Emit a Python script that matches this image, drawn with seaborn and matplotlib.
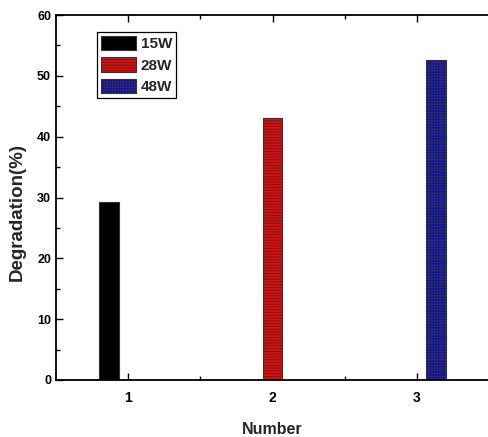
import matplotlib
matplotlib.use("Agg")
import matplotlib.pyplot as plt
import seaborn as sns
import pandas as pd
from matplotlib.ticker import MultipleLocator, FixedLocator
from matplotlib.patches import Patch

numbers = ["1", "2", "3"]
powers = ["15W", "28W", "48W"]
values_15w = [29.3, 0, 0]
values_28w = [0, 43.0, 0]
values_48w = [0, 0, 52.6]

rows = []
for p, vals in zip(powers, [values_15w, values_28w, values_48w]):
    for n, v in zip(numbers, vals):
        rows.append({"Number": n, "Power": p, "Degradation": v})
df = pd.DataFrame(rows)

sns.set_theme(style="white")
plt.rcParams['font.family'] = ['Liberation Sans', 'DejaVu Sans']
plt.rcParams['hatch.linewidth'] = 0.7

fig = plt.figure(figsize=(4.89, 4.37), dpi=100)
ax = fig.add_axes([56/489, (437-380)/437, 433/489, 365/437])

colors = ["#000000", "#ff0000", "#0000ff"]
sns.barplot(data=df, x="Number", y="Degradation", hue="Power", hue_order=powers,
            order=numbers, palette=colors, width=0.4, gap=0, saturation=1,
            edgecolor="#333333", linewidth=0.8, ax=ax, legend=False)

hatches = ["", "------", "++++++"]
for cont, h in zip(ax.containers, hatches):
    for bar in cont:
        bar.set_hatch(h)
        if bar.get_height() == 0:
            bar.set_visible(False)

ax.set_xlim(-0.5, 2.5)
ax.set_ylim(0, 60)
ax.yaxis.set_major_locator(MultipleLocator(10))
ax.yaxis.set_minor_locator(MultipleLocator(5))
ax.xaxis.set_minor_locator(FixedLocator([0.5, 1.5]))
ax.tick_params(which="both", direction="in", top=True, right=False, left=True, bottom=True,
               width=1, colors="black")
ax.tick_params(axis="y", labelsize=9)
ax.tick_params(axis="x", labelsize=10, pad=8)
ax.tick_params(which="major", length=5)
ax.tick_params(which="minor", length=3)
for lab in ax.get_xticklabels() + ax.get_yticklabels():
    lab.set_fontweight("bold")
for s in ["left", "bottom", "top"]:
    ax.spines[s].set_color("black")
    ax.spines[s].set_linewidth(1.3)
ax.spines["right"].set_visible(False)

ax.set_xlabel("Number", fontsize=11.5, fontweight="bold", labelpad=12)
ax.set_ylabel("Degradation(%)", fontsize=13.5, fontweight="bold")
ax.yaxis.set_label_coords(-0.07, 0.46)

handles = [Patch(facecolor=c, edgecolor="#333333", hatch=h, linewidth=0.8)
           for c, h in zip(colors, hatches)]
leg = ax.legend(handles, powers, loc="upper left", bbox_to_anchor=(0.095, 0.953),
                fancybox=False, edgecolor="black", framealpha=1,
                handlelength=2.3, handleheight=1.05, handletextpad=0.3,
                borderpad=0.25, labelspacing=0.4, borderaxespad=0,
                prop={"weight": "bold", "size": 11})
leg.get_frame().set_linewidth(0.9)

fig.savefig("out.png", dpi=100)
